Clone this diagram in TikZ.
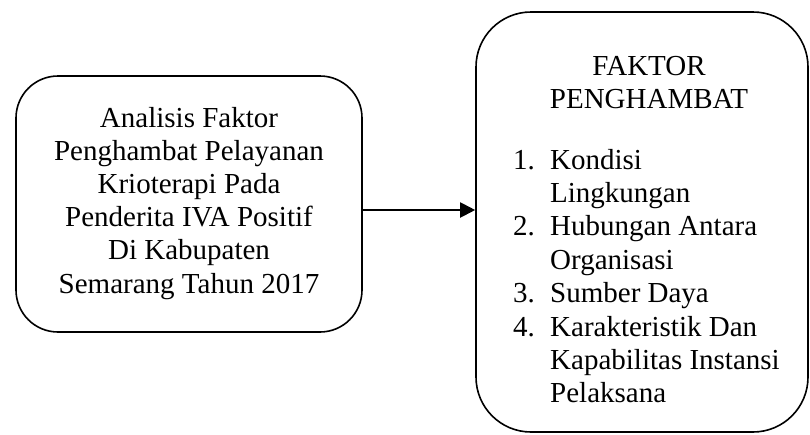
\documentclass[tikz,border=0pt]{standalone}
\usepackage{fontspec}
\setmainfont{Liberation Serif}
\usetikzlibrary{arrows.meta}
\begin{document}
\begin{tikzpicture}[x=1pt,y=-1pt,
  roundbox/.style={draw, line width=1.6pt, rounded corners=#1, inner sep=0pt},
  txt/.style={inner sep=0pt, font=\fontsize{29}{33.3}\selectfont},
  link/.style={line width=2pt, -{Triangle[length=15pt,width=15pt]}}]
\useasboundingbox (0,0) rectangle (810,434);
% boxes
\node[roundbox=42pt, minimum width=346pt, minimum height=256pt] (left) at (189,204) {};
\node[roundbox=55pt, minimum width=332pt, minimum height=420pt] (right) at (642,222) {};
% left text
\foreach \t [count=\i] in {Analisis Faktor, Penghambat Pelayanan, Krioterapi Pada, Penderita IVA Positif, Di Kabupaten, Semarang Tahun 2017}
  \node[txt, anchor=base] (lt\i) at (189,{127+33.2*(\i-1)}) {\t};
% right title
\node[txt, anchor=base] (t1) at (649,75) {FAKTOR};
\node[txt, anchor=base] (t2) at (649,108.4) {PENGHAMBAT};
% list numbers
\node[txt, anchor=base west] (n1) at (513,169) {1.};
\node[txt, anchor=base west] (n2) at (513,235.8) {2.};
\node[txt, anchor=base west] (n3) at (513,302.6) {3.};
\node[txt, anchor=base west] (n4) at (513,336) {4.};
% list texts
\foreach \t [count=\i] in {Kondisi, Lingkungan, Hubungan Antara, Organisasi, Sumber Daya, Karakteristik Dan, Kapabilitas Instansi, Pelaksana}
  \node[txt, anchor=base west] (r\i) at (550,{169+33.4*(\i-1)}) {\t};
% arrow
\coordinate (ay) at (0,210);
\draw[link] (left.east |- ay) -- (right.west |- ay);
\end{tikzpicture}
\end{document}
